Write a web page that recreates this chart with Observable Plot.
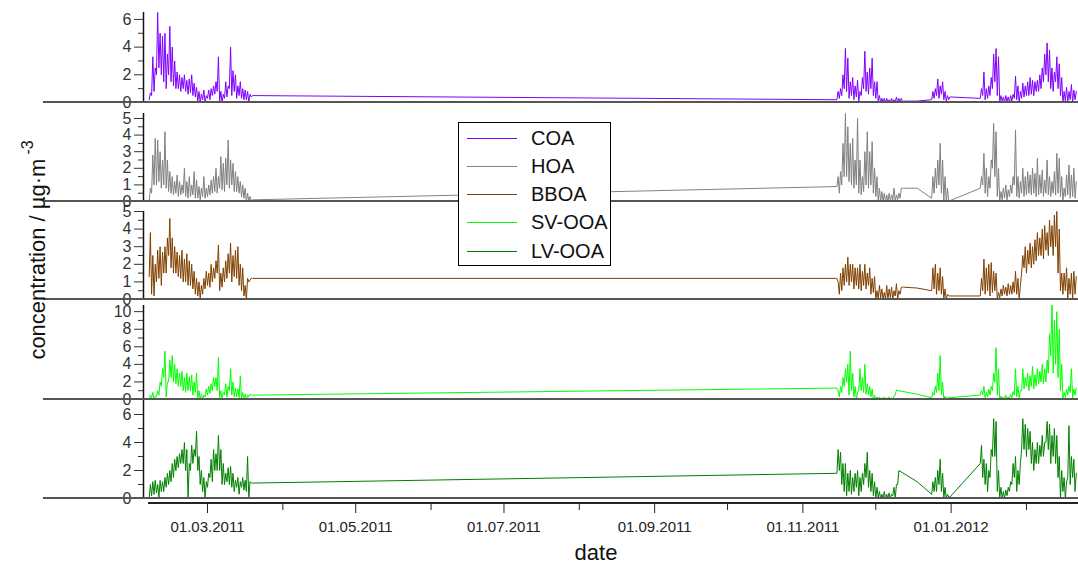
<!DOCTYPE html>
<html><head><meta charset="utf-8">
<script src="https://cdn.jsdelivr.net/npm/d3@7"></script>
<script src="https://cdn.jsdelivr.net/npm/@observablehq/plot@0.6"></script>
<style>
body{margin:0;background:#fff;font-family:Arial,"Liberation Sans",sans-serif;}
#c{position:relative;width:1078px;height:569px;overflow:hidden;}
#c svg{position:absolute;overflow:visible;}
.hl{position:absolute;height:2px;background:#555;}
</style></head><body><div id="c"></div>
<script>
// segment start dates (12-hour samples, alternating low/high readings)
const segStarts = ["2011-02-05","2011-11-15","2011-12-24","2012-01-13"];
const bridgeDate = "2011-12-18";
const seriesNames = ["COA","HOA","BBOA","SV-OOA","LV-OOA"];
const seriesColors = ["#8000ff","#808080","#804000","#00ff00","#008000"];

const COA_A=[.2,.7,.5,3.3,.8,2.5,2,6.5,2.5,5,2,4.8,1.5,5,1,3.5,2,5.5,1.5,4,1.2,3,1,2.2,1,2,.8,1.8,1,2,.8,1.6,.6,1.7,.7,2,.5,1.4,.4,1.1,.1,.8,0,.6,.2,.9,0,.5,.3,.9,.2,1,.5,1.2,.6,1.5,.8,3.3,.1,.8,0,.6,.3,1.5,.4,1.2,1,4,.5,2.3,.8,2,.3,1.2,.5,1.5,.3,1,.2,.9,.2,.8,0,.6,.4,.5];
const COA_B=[.2,.8,.3,1,.5,2,1,3.9,.8,3.2,.3,1.5,.5,1.8,.2,1.2,.4,1.6,.1,.8,.5,1.8,1,3.7,.8,2.2,.6,2.5,1,3.2,.5,1.5,.3,1.5,.1,.5,0,.3,0,.3,0,.3,0,.2,0,.3,0,.2,0,.4,0,.3,0,.3,.05,.1];
const COA_C=[.2,.8,.3,1,.5,1.7,.3,1.2,.6,1.5,.2,.8,.1,.5,.2,.4];
const COA_D=[.3,1,.5,2.2,.2,1,.3,1.2,.5,1.8,1,3.5,1.5,3.9,.5,3.3,0,.5,.1,.4,0,.5,.1,.4,0,.5,.1,.6,.3,1.9,.2,1.2,0,.8,.3,1.4,.4,1.2,.5,1.5,.5,1.8,.6,1.6,.5,1.5,.8,1.6,.8,2,1,2.5,1.5,3.5,2,4.3,1.5,3.8,1,2.5,.8,2.2,1.5,3.3,1,2.8,.5,1.8,0,.8,.1,1.1,0,.8,.2,1.3,0,.9,.2,.8];
const HOA_A=[0,.8,.5,2.8,1,3.8,1,3.7,1.2,3,.8,2.5,1,4.2,.8,2.5,.6,1.8,.5,1.5,.4,1.2,.5,1.6,.3,1.2,.4,1,.5,2,.3,1.2,.2,1.5,.3,1,.4,1.8,.2,1.3,.2,.9,.1,.8,.3,1.5,.2,.8,.3,1,.4,1.3,.5,1.5,.6,2,.5,1.5,.8,2.7,.7,2.3,.6,2.6,1,3.7,.8,2.5,1,2.3,.6,1.8,.6,1.5,.5,1.2,.3,1,.2,.8,0,.5,0,.3,.05,.1];
const HOA_B=[.9,1.5,.5,1.8,1,3.5,1.5,5.3,1.5,4.5,1.2,3.5,1,3.8,.8,2.5,1,5,.5,2.5,.4,1.5,.6,3,1,4.2,.8,3,1,3.6,.5,2,.3,1.5,0,.8,0,.6,0,.5,0,.4,0,.5,0,.4,.1,.8,0,.4,.1,.5,.2,.8,.8,.8];
const HOA_C=[.2,1.5,.5,2,.8,2.5,1,3.5,.5,2.5,0,1.5,0,.8,0,.05];
const HOA_D=[.8,1.5,1,2.9,.5,2,.3,1.5,.8,2.5,2,4.7,1.5,4.2,.3,2,0,.6,.1,.8,.2,1,.1,.7,.3,1,.5,1.5,1,4.3,.3,1.5,.2,1.2,.5,2,.3,1.5,.4,1.8,.5,1.6,.4,2,.5,1.7,.3,2.6,.4,1.6,.5,1.9,.3,1.3,.5,2.5,.4,1.5,.3,1.2,.5,1.8,.4,2.9,.5,2.6,.3,1.5,0,.8,.3,1.6,.4,2.2,.2,1.6,.3,2,.2,1.2];
const BBOA_A=[1.3,3.8,.3,2.5,.2,2,1,2.8,1.2,3,.8,2.7,1.5,3,1.5,3.5,2.5,4.6,1.8,3.5,1.5,3,1.5,2.7,1.3,2.5,1.2,2.8,1,2.3,1,2.6,.8,2.2,.8,2,.6,1.6,.3,1.2,.2,1,0,.8,.3,1.2,.6,1.6,.8,1.5,.7,2,1,1.8,1.2,2.2,1.5,3.1,.5,1.5,.7,1.8,1,2.2,1.2,2.6,1.5,3.2,1,2.5,1.3,2.8,1.2,3,.8,2,.5,1.8,.2,.8,0,1.2,1,1.1,1.2,1.2];
const BBOA_B=[1.2,1,.3,1.5,.5,1.8,.8,2,1,2.4,.8,2,1,2,.6,1.8,.8,1.8,.6,2,.5,1.6,.8,2,.6,1.5,.8,1.8,.3,1.2,.4,1.3,0,.5,0,.8,.1,.6,0,.4,0,.8,0,.6,.1,.7,0,.5,.2,.9,0,.5,.3,.7,.7,.7];
const BBOA_C=[.5,1.8,.6,2,.3,1.5,.5,1.8,.3,1.3,0,.6,0,.3,.2,.2];
const BBOA_D=[.2,1.2,.5,2.3,.3,1.8,.5,2,.2,2.1,.4,1.6,.5,1.5,0,.4,.1,.6,.2,.8,.3,.7,.2,.9,.3,.8,.3,1,.4,1.6,.3,1.2,0,.8,1.5,2.5,1.8,3,1.5,2.8,2,3.2,1.8,3,2,3.4,2.2,3.8,2.5,3.5,2.5,4,2.3,4.2,2.8,3.8,2.5,4.5,3,4.2,2.5,4.8,3,5,1.5,4,.5,1.5,.3,1.5,.5,1.8,0,1.2,.3,1.5,0,1.6,.3,1.3];
const SV_A=[0,.5,.2,.8,0,.4,.3,1,.5,2,1.5,3.5,2.5,5.5,.3,2,2,4.5,2.5,5,2,4,1.8,3.5,1.5,3,1.5,3.2,1,2.5,.8,3,1,2.6,1,2.8,.5,2,.8,3,.1,1,0,.6,0,.5,.3,1.2,.5,1.5,.7,1.8,1,2.5,1.5,2.5,1,4.8,.2,1,.1,.8,.5,1.8,.3,1.5,1,3.5,.5,2,.3,1.3,.3,1.2,.2,2.7,.1,.8,.2,.6,0,.5,.3,.6,.5,.5];
const SV_B=[1.3,1,.3,1.5,.8,2.5,1.5,3.5,2,4,.5,5.5,1,3,.3,1.5,0,.8,1,3.5,1,2.5,.8,4,.6,1.8,.5,1.5,.3,1.2,0,.5,0,.3,0,.3,0,.2,0,.3,0,.2,0,.3,0,.2,0,.4,.5,1.1,1,1];
const SV_C=[.2,.8,.5,1.5,.8,3,1,5,.5,2,0,.4,0,.2,.2,.2];
const SV_D=[.5,1,.5,1.5,.2,.8,.3,1.2,.5,1.5,1,3,2,5.9,.5,3.5,0,.4,0,.3,.1,.5,0,.3,.1,.6,.2,.9,.5,3.5,.3,1.5,.2,1,1,3.5,1.2,2.5,1.5,3,1,2.7,1.5,3.8,1.2,2.8,1.5,3.5,1.8,3.2,2,4,1.8,3.5,2,4.5,3,7.5,5,11.2,3,9,4,10,2.5,8,1,4,0,.8,.2,1.2,.5,1.5,.8,3.5,.2,1.2,.5,1.3];
const LV_A=[0,1,.2,1.2,.3,1.3,.4,1,0,1.3,.5,1.2,.5,1.5,.8,1.8,1,2,1.2,2.5,1.5,2.8,2,3,2.2,3.2,2.5,3.5,2.5,4,2,3.5,0,2.5,2,3.8,2.5,3.5,3,4.8,2,3,1,2,.5,1.5,0,1.2,.8,1.8,1.5,2.8,1.2,3.5,2,3.2,2,4.5,2,3.5,1,2.5,1,1.8,1.2,2.2,1,2.3,.8,1.8,.5,1.3,.8,1.5,.3,1.2,.8,1.5,.6,1.3,.5,3,0,1.2,1.1,1.1];
const LV_B=[1.8,3.5,2,3.3,1,2.5,.5,2.5,.2,1.8,.5,2,.3,1.5,.5,1.8,.8,2,.2,1.5,.5,1.8,1,2.5,1.5,3.3,.8,2,.5,1.8,.2,1.2,0,.8,0,.5,0,.3,0,.5,0,.3,0,.4,0,.3,.2,.8,0,1,1,2];
const LV_C=[.3,1.2,.5,1.5,.5,2,1,2.8,.5,1.8,0,.8,0,.3,.1,.1];
const LV_D=[2.5,3.8,1.5,2.8,1,2.5,.5,2,1.5,3.5,3,5.7,3,5.5,.5,2,0,.8,0,.5,0,.6,.2,.8,.5,1.2,1,2.5,1.5,3,.5,2,1,2.5,3.5,5.7,3.5,5.3,3,5,3.5,4.8,2.5,4,2,3.5,2.5,4,2.5,3.8,3,4.5,3,4,4,5.5,3.5,5.3,2.5,4.5,3,5,2.5,4.5,1.5,3,0,2,.5,1.5,0,1.2,1.5,5.2,1,3,1.5,2.8,.5,1.8];
const bridgeValues=[.1,.8,.65,.6,1.2];

const segs=[[COA_A,COA_B,COA_C,COA_D],[HOA_A,HOA_B,HOA_C,HOA_D],[BBOA_A,BBOA_B,BBOA_C,BBOA_D],[SV_A,SV_B,SV_C,SV_D],[LV_A,LV_B,LV_C,LV_D]];

const yDomains=[[0,6.5],[0,5.3],[0,5],[0,10.7],[0,7]];
const yMajor=[[0,2,4,6],[0,1,2,3,4,5],[0,1,2,3,4,5],[0,2,4,6,8,10],[0,2,4,6]];
const yMinor=[[1,3,5],[.5,1.5,2.5,3.5,4.5],[.5,1.5,2.5,3.5,4.5],[1,3,5,7,9],[1,3,5]];
const panelBox=[[12,102],[113,201],[211,299],[305,399],[400,498]];

const xMajor=["2011-03-01","2011-05-01","2011-07-01","2011-09-01","2011-11-01","2012-01-01"].map(d=>new Date(d));
const xMinor=["2011-04-01","2011-06-01","2011-08-01","2011-10-01","2011-12-01","2012-02-01"].map(d=>new Date(d));
const xDomain=[new Date("2011-02-02T16:00"),new Date("2012-02-22T10:00")];

const H=12*3600*1000;
function build(i){
  const out=[];
  segs[i].forEach((arr,k)=>{
    const t0=new Date(segStarts[k]).getTime();
    arr.forEach((v,j)=>out.push({date:new Date(t0+j*H),value:v}));
    if(k===1) out.push({date:new Date(bridgeDate),value:bridgeValues[i]});
  });
  return out;
}

const c=document.getElementById("c");
const font="Arial, 'Liberation Sans', sans-serif";
for(let i=0;i<5;i++){
  const [top,base]=panelBox[i];
  const p=Plot.plot({
    width:1078,height:base-top,marginLeft:143,marginRight:0,marginTop:0,marginBottom:0,
    style:{fontFamily:font,fontSize:"16px",color:"#333",background:"transparent",overflow:"visible"},
    x:{domain:xDomain,axis:null},
    y:{domain:yDomains[i],axis:null},
    marks:[
      Plot.lineY(build(i),{x:"date",y:"value",stroke:seriesColors[i],strokeWidth:1,clip:true}),
      Plot.ruleX([xDomain[0]],{y1:yDomains[i][0],y2:yDomains[i][1],stroke:"#111",strokeWidth:1.5}),
      Plot.axisY({ticks:yMajor[i],tickSize:9,tickPadding:3,tickFormat:d=>d,anchor:"left",label:null}),
      Plot.axisY({ticks:yMinor[i],tickSize:5,tickFormat:()=>"",anchor:"left",label:null})
    ]
  });
  p.style.left="0px";p.style.top=top+"px";
  c.appendChild(p);
  const hl=document.createElement("div");hl.className="hl";
  hl.style.left="43px";hl.style.width="1035px";hl.style.top=(base-1)+"px";
  c.appendChild(hl);
}
// x axis
const xa=Plot.plot({
  width:1078,height:60,marginLeft:143,marginRight:0,marginTop:0,marginBottom:60,
  style:{fontFamily:font,fontSize:"15px",color:"#222",background:"transparent",overflow:"visible"},
  x:{domain:xDomain},
  marks:[
    Plot.axisX({ticks:xMajor,tickSize:10,tickPadding:8,anchor:"bottom",tickFormat:d3.utcFormat("%d.%m.%Y"),label:null}),
    Plot.axisX({ticks:xMinor,tickSize:7,anchor:"bottom",tickFormat:()=>"",label:null})
  ]
});
xa.style.left="0px";xa.style.top="503px";c.appendChild(xa);
const xl=document.createElement("div");xl.className="hl";xl.style.left="148px";xl.style.width="930px";xl.style.top="502px";xl.style.background="#222";c.appendChild(xl);

const t=document.createElement("div");
t.textContent="date";
Object.assign(t.style,{position:"absolute",left:"596px",top:"540px",fontSize:"22px",transform:"translateX(-50%)",color:"#111"});
c.appendChild(t);
const yl=document.createElement("div");
yl.innerHTML="concentration / µg·m<sup style='font-size:16px;vertical-align:12px;margin-left:4px'>-3</sup>";
Object.assign(yl.style,{position:"absolute",left:"35px",top:"250px",fontSize:"22px",whiteSpace:"nowrap",transform:"translate(-50%,-50%) rotate(-90deg)",color:"#111"});
c.appendChild(yl);

// legend
const lg=document.createElement("div");
Object.assign(lg.style,{position:"absolute",left:"458px",top:"122px",width:"151px",height:"142px",border:"1px solid #000",background:"#fff"});
seriesNames.forEach((n,i)=>{
  const r=document.createElement("div");
  Object.assign(r.style,{position:"absolute",left:"8px",top:(3+i*28.3)+"px",height:"24px",display:"flex",alignItems:"center"});
  const sw=document.createElement("span");
  Object.assign(sw.style,{display:"inline-block",width:"50px",height:"0px",borderTop:"1.5px solid "+seriesColors[i],marginRight:"14px"});
  const tx=document.createElement("span");
  Object.assign(tx.style,{fontSize:"20px",color:"#111"});
  tx.textContent=n;
  r.appendChild(sw);r.appendChild(tx);lg.appendChild(r);
});
c.appendChild(lg);
</script></body></html>
